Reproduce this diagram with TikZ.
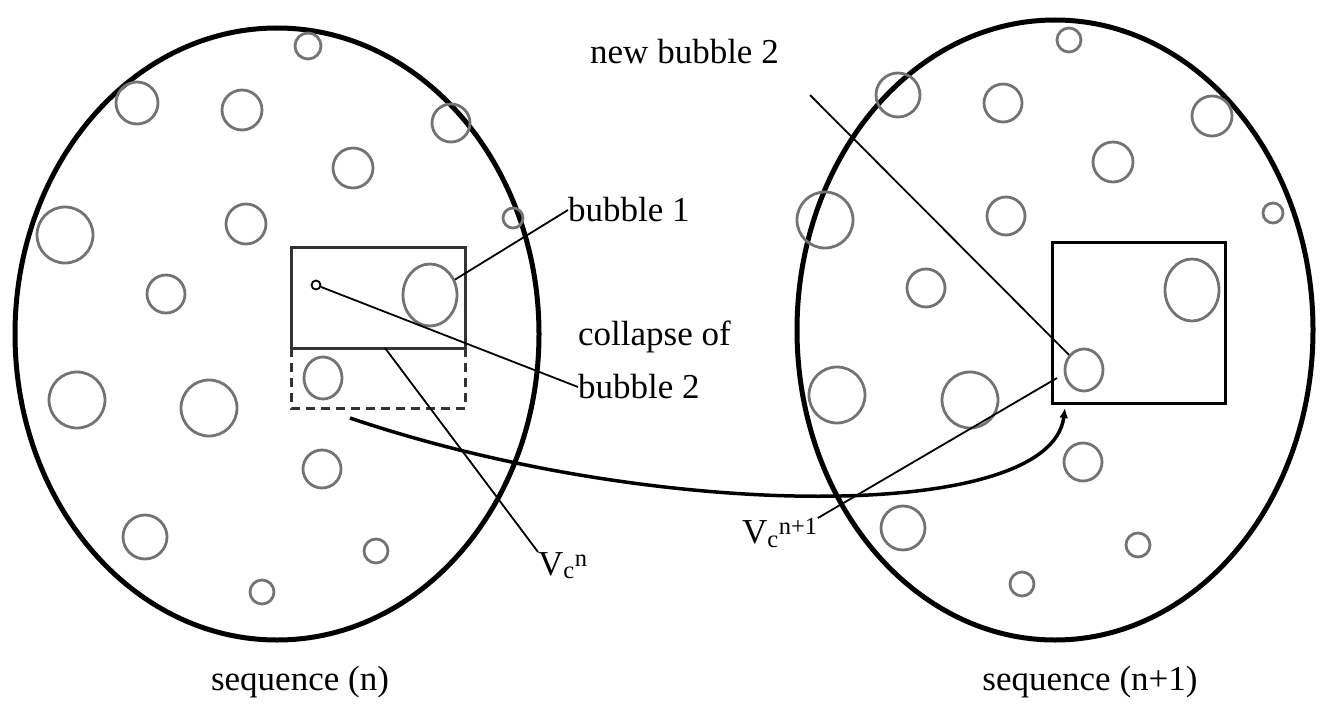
\documentclass[tikz,border=0pt]{standalone}
\usepackage{fontspec}
\setmainfont{Liberation Serif}
\usetikzlibrary{positioning, arrows.meta, shapes.geometric}

\begin{document}
\begin{tikzpicture}[
  x=1pt, y=-1pt,
  seq/.style={draw, ellipse, line width=5pt, inner sep=0pt},
  bub/.style={draw=black!55, ellipse, line width=2.8pt, inner sep=0pt},
  win/.style={draw=black!80, line width=3pt},
  lbl/.style={font=\fontsize{35}{40}\selectfont, inner sep=0pt},
  arr/.style={line width=1.8pt},
]
\useasboundingbox (0,0) rectangle (1328,706);

% Sequences
\node[seq, minimum width=524pt, minimum height=612pt] (s1) at (277,334) {};
\node[seq, minimum width=516pt, minimum height=620pt] (s2) at (1055,330) {};

% Bubbles, sequence (n)
\foreach \x/\y/\r [count=\i] in {308/46/13, 137/103/21, 242/110/20, 451/123/19,
    353/168/20, 65/235/28, 246/224/20, 513/218/10, 166/294/19, 77/400/28,
    209/408/28, 322/469/19, 145/537/22, 376/551/12, 262/592/12}
  \node[bub, minimum width=2*\r pt, minimum height=2*\r pt] (a\i) at (\x,\y) {};
\node[bub, minimum width=54pt, minimum height=62pt] (b1) at (430,295) {};
\node[bub, minimum width=38pt, minimum height=42pt] (b2) at (323,378) {};
\node[draw, circle, line width=1.8pt, minimum size=9pt, inner sep=0pt] (vc) at (316,285) {};

% Bubbles, sequence (n+1)
\foreach \x/\y/\r [count=\i] in {1069/40/12, 898/95/22, 1003/103/19, 1212/116/20,
    1113/162/20, 825/220/28, 1006/216/19, 1273/213/10, 926/288/19, 837/395/28,
    970/400/28, 1083/462/19, 903/528/22, 1138/545/12, 1022/584/12}
  \node[bub, minimum width=2*\r pt, minimum height=2*\r pt] (c\i) at (\x,\y) {};
\node[bub, minimum width=54pt, minimum height=62pt] (d1) at (1192,290) {};
\node[bub, minimum width=38pt, minimum height=42pt] (d2) at (1084,370) {};

% Control windows
\draw[win] (291,247) rectangle (465,348);
\draw[win, dashed, dash pattern=on 9pt off 6pt] (291,348) -- (291,408) -- (465,408) -- (465,348);
\draw[win, draw=black] (1052,242) rectangle (1225,403);
\coordinate (wn) at (385,348);
\coordinate (wl) at (350,418);
\coordinate (wr) at (1065,408);
\coordinate (wm) at (1057,378);

% Labels
\node[lbl, anchor=west] (newb) at (590,52) {new bubble 2};
\node[lbl, anchor=west] (lb1) at (568,210) {bubble 1};
\node[lbl, anchor=west] (lcol) at (578,337) {collapse of};
\node[lbl, anchor=west] (lb2) at (578,387) {bubble 2};
\node[lbl, anchor=north west] (vn) at (538,552) {V\textsubscript{c}\textsuperscript{n}};
\node[lbl, anchor=north west] (vn1) at (742,518) {V\textsubscript{c}\textsuperscript{n+1}};
\node[lbl] (seqn) at (300,682) {sequence (n)};
\node[lbl] (seqn1) at (1090,682) {sequence (n+1)};

% Pointers
\draw[arr] (b1) -- (lb1.west);
\draw[arr] (vc) -- (lb2.west);
\draw[arr] (wn) -- (vn.north west);
\draw[arr] (810,95) coordinate (nb) -- (d2);
\draw[arr] (wm) -- (vn1.north east);
\draw[line width=3.5pt, -{Latex[length=10pt, width=9pt]}] (wl) .. controls (650,520) and (1050,525) .. (wr);

\end{tikzpicture}
\end{document}
